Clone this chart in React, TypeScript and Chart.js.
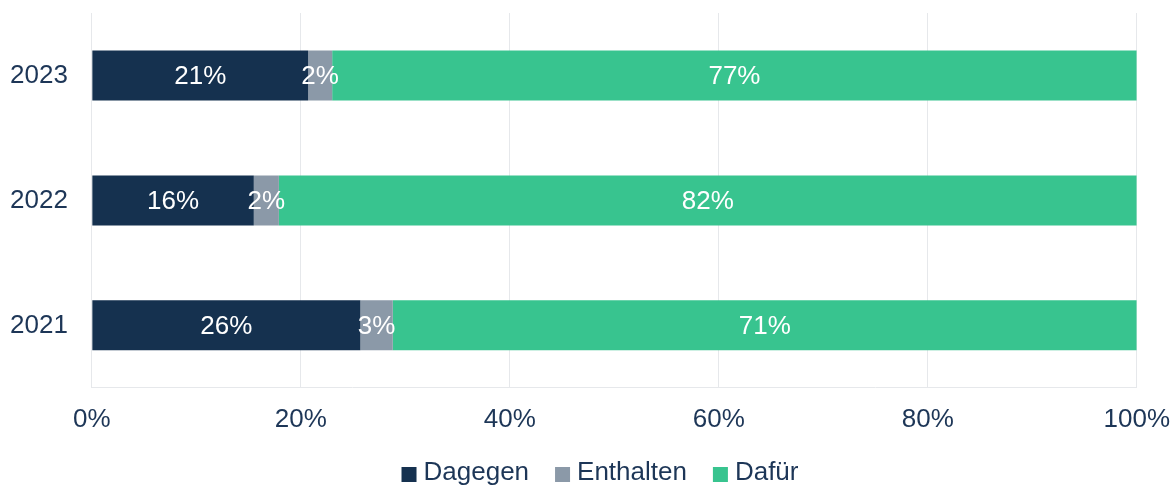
import React, { useEffect, useRef } from "react";
import { Chart, registerables } from "chart.js";

Chart.register(...registerables);

const years = ["2023", "2022", "2021"];
const dagegen = [20.7, 15.5, 25.7];
const enthalten = [2.3, 2.4, 3.1];
const dafuer = [77.0, 82.1, 71.2];
const seriesNames = ["Dagegen", "Enthalten", "Dafür"];
const seriesColors = ["#15314f", "#8b99a8", "#38c48f"];
const xTicks = [0, 20, 40, 60, 80, 100];

const FONT = '"Liberation Sans", Arial, sans-serif';
const TEXT_COLOR = "#1d3657";
const GRID_COLOR = "#e6e8eb";
const X_PAD = 16;
const Y_PAD = 24;

const barLabels = {
  id: "barLabels",
  afterDatasetsDraw(chart: any) {
    const ctx = chart.ctx;
    ctx.save();
    ctx.font = `26px ${FONT}`;
    ctx.fillStyle = "#ffffff";
    ctx.textAlign = "center";
    ctx.textBaseline = "middle";
    chart.data.datasets.forEach((ds: any, di: number) => {
      const meta = chart.getDatasetMeta(di);
      meta.data.forEach((el: any, i: number) => {
        const v = ds.data[i];
        const cx = (el.x + el.base) / 2;
        ctx.fillText(Math.round(v) + "%", cx, el.y + 1);
      });
    });
    ctx.restore();
  },
};

const customLegend = {
  id: "customLegend",
  afterDraw(chart: any) {
    const ctx = chart.ctx;
    ctx.save();
    ctx.font = `26px ${FONT}`;
    const box = 15;
    const boxGap = 7;
    const itemGap = 26;
    const widths = seriesNames.map((n) => box + boxGap + ctx.measureText(n).width);
    const total = widths.reduce((a, b) => a + b, 0) + itemGap * (seriesNames.length - 1);
    let x = chart.width / 2 + 13 - total / 2;
    const y = 473;
    ctx.textBaseline = "middle";
    ctx.textAlign = "left";
    seriesNames.forEach((n, i) => {
      ctx.fillStyle = seriesColors[i];
      ctx.fillRect(x, y - 6, box, box);
      ctx.fillStyle = TEXT_COLOR;
      ctx.fillText(n, x + box + boxGap, y);
      x += widths[i] + itemGap;
    });
    ctx.restore();
  },
};

export default function App() {
  const ref = useRef<HTMLCanvasElement | null>(null);
  useEffect(() => {
    if (!ref.current) return;
    const chart = new Chart(ref.current, {
      type: "bar",
      data: {
        labels: years,
        datasets: [dagegen, enthalten, dafuer].map((d, i) => ({
          label: seriesNames[i],
          data: d,
          backgroundColor: seriesColors[i],
          borderWidth: 0,
          categoryPercentage: 0.8,
          barPercentage: 0.5,
        })),
      },
      options: {
        indexAxis: "y",
        responsive: false,
        animation: false,
        devicePixelRatio: 1,
        layout: { padding: { top: 13, left: 10, right: 0, bottom: 44 } },
        plugins: {
          legend: { display: false },
          tooltip: { enabled: false },
        },
        scales: {
          x: {
            stacked: true,
            min: 0,
            max: 100,
            afterBuildTicks: (scale: any) => {
              scale.ticks = xTicks.map((v) => ({ value: v }));
            },
            afterFit: (scale: any) => {
              scale.paddingRight = Math.max(scale.paddingRight - X_PAD + 4, 0);
              scale.paddingLeft = Math.max(scale.paddingLeft - X_PAD, 0);
            },
            ticks: {
              padding: X_PAD,
              color: TEXT_COLOR,
              font: { family: FONT, size: 26 },
              callback: (v: any) => v + "%",
            },
            grid: { color: GRID_COLOR, lineWidth: 1, drawTicks: false },
            border: { display: true, color: GRID_COLOR },
          },
          y: {
            stacked: true,
            afterFit: (scale: any) => {
              const ctx = scale.ctx;
              ctx.save();
              ctx.font = `26px ${FONT}`;
              const w = Math.max(...years.map((y) => ctx.measureText(y).width));
              ctx.restore();
              scale.width = w + Y_PAD;
              scale.paddingTop = 0;
              scale.paddingBottom = 0;
            },
            ticks: {
              padding: Y_PAD,
              color: TEXT_COLOR,
              font: { family: FONT, size: 26 },
            },
            grid: { display: false, drawTicks: false },
            border: { display: false },
          },
        },
      },
      plugins: [barLabels, customLegend],
    } as any);
    return () => chart.destroy();
  }, []);
  return (
    <div style={{ position: "absolute", left: 0, top: 0, width: 1174, height: 486, overflow: "hidden" }}>
      <canvas ref={ref} width={1174} height={495} style={{ display: "block" }} />
    </div>
  );
}
